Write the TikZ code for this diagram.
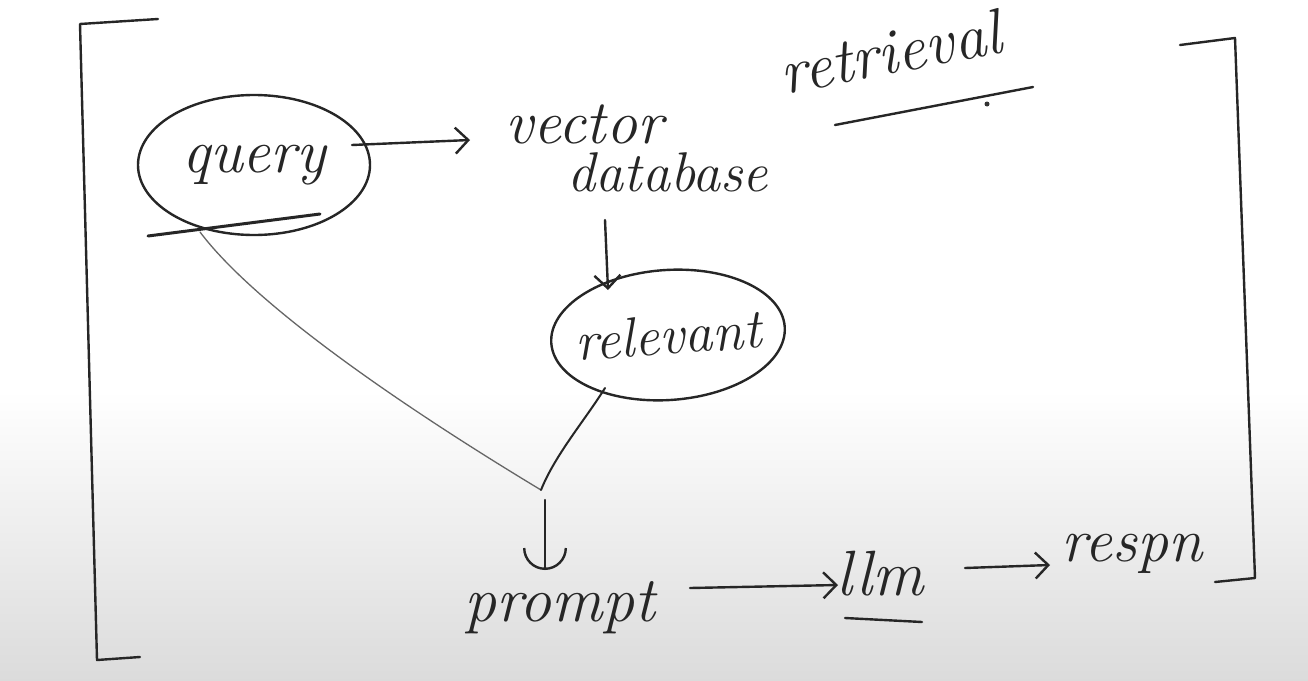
\documentclass[tikz,border=0pt]{standalone}
\usetikzlibrary{shapes.geometric,arrows.meta}
\begin{document}
\begin{tikzpicture}[x=1pt,y=-1pt,
  ink/.style={draw=black!85,line width=2.4pt,line cap=round,line join=round},
  hand/.style={font=\fontsize{62}{68}\selectfont\itshape,text=black!85,inner sep=2pt},
  blob/.style={ink,ellipse,inner sep=0pt},
  arr/.style={ink,-{Straight Barb[length=13pt,width=26pt,line width=2.4pt]}},
  uarr/.style={ink,-{Arc Barb[length=22pt,width=44pt,line width=2.4pt]}},
  thin/.style={draw=black!60,line width=1.3pt,line cap=round}]
\useasboundingbox (0,0) rectangle (1308,680);
\fill[white] (0,0) rectangle (1308,390);
\shade[top color=white,bottom color=black!14] (0,390) rectangle (1308,680);
% brackets
\draw[ink] (158,19) -- (80,24) -- (97,660) -- (140,657);
\draw[ink] (1180,45) -- (1235,38) -- (1255,578) -- (1215,582);
% nodes
\node[blob,minimum width=232pt,minimum height=140pt,hand] (query) at (254,165) {query};
\node[hand] (vector) at (584,124) {vector};
\node[hand,font=\fontsize{56}{62}\selectfont\itshape] (database) at (668,172) {database};
\node[hand,rotate=11,font=\fontsize{64}{70}\selectfont\itshape] (retrieval) at (890,52) {retrieval};
\node[blob,minimum width=234pt,minimum height=130pt,hand,font=\fontsize{56}{62}\selectfont\itshape,inner sep=-28pt,rotate=4] (relevant) at (668,335) {relevant};
\node[hand,font=\fontsize{64}{70}\selectfont\itshape] (prompt) at (560,608) {prompt};
\node[hand,font=\fontsize{64}{70}\selectfont\itshape] (llm) at (880,574) {llm};
\node[hand] (respn) at (1132,554) {respn};
\coordinate (j) at (541,490);
% underlines and marks
\draw[ink,line width=3pt] (148,236) -- (320,214);
\draw[ink] (835,125) -- (1033,87);
\fill[black!80] (987,104) circle (2.5pt);
\draw[ink] (845,618) -- (922,622);
% connectors
\draw[arr] ([shift={(98,-20)}]query.center) -- ([shift={(-114,16)}]vector.center);
\draw[arr] ([shift={(-63,48)}]database.center) -- ([shift={(-60,-45)}]relevant.center);
\draw[thin] ([shift={(-54,67)}]query.center) .. controls (255,305) and (400,405) .. (j);
\draw[ink,line width=2pt] ([shift={(-63,53)}]relevant.center) .. controls (585,420) and (555,455) .. (j);
\draw[uarr] ([shift={(4,10)}]j) -- ([shift={(4,80)}]j);
\draw[arr] ([shift={(130,-20)}]prompt.center) -- ([shift={(-42,11)}]llm.center);
\draw[arr] ([shift={(85,-6)}]llm.center) -- ([shift={(-82,11)}]respn.center);
\end{tikzpicture}
\end{document}
